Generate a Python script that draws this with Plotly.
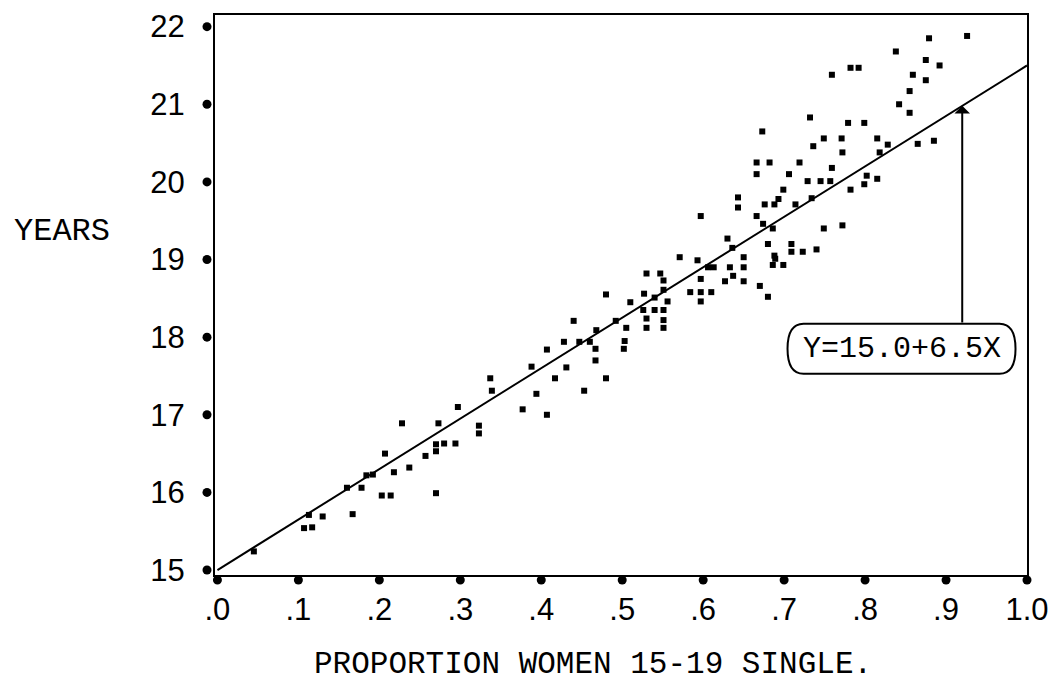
import plotly.graph_objects as go

# ---- data ----
x_vals = [0.045, 0.107, 0.117, 0.113, 0.130, 0.167, 0.160, 0.178, 0.184, 0.192,
          0.203, 0.214, 0.207, 0.218, 0.237, 0.228, 0.257, 0.270, 0.270, 0.280,
          0.294, 0.270, 0.273, 0.297, 0.323, 0.323, 0.337, 0.339, 0.377, 0.388,
          0.394, 0.407, 0.407, 0.417, 0.428, 0.431, 0.440, 0.453, 0.447, 0.460,
          0.467, 0.467, 0.480, 0.480, 0.468, 0.492, 0.505, 0.503, 0.502, 0.510,
          0.527, 0.526, 0.540, 0.551, 0.530, 0.551, 0.530, 0.551, 0.530, 0.547,
          0.551, 0.556, 0.540, 0.551, 0.571, 0.593, 0.597, 0.606, 0.613, 0.597,
          0.584, 0.597, 0.610, 0.597, 0.627, 0.637, 0.650, 0.633, 0.650, 0.650,
          0.630, 0.636, 0.670, 0.680, 0.643, 0.643, 0.666, 0.674, 0.686, 0.680,
          0.688, 0.689, 0.686, 0.699, 0.709, 0.709, 0.723, 0.740, 0.749, 0.772,
          0.676, 0.688, 0.693, 0.699, 0.714, 0.734, 0.666, 0.666, 0.682, 0.706,
          0.719, 0.729, 0.745, 0.757, 0.759, 0.673, 0.732, 0.736, 0.749, 0.771,
          0.772, 0.782, 0.799, 0.802, 0.815, 0.818, 0.828, 0.815, 0.779, 0.799,
          0.759, 0.782, 0.792, 0.838, 0.842, 0.855, 0.855, 0.859, 0.865, 0.885,
          0.875, 0.875, 0.892, 0.879, 0.926]
y_vals = [15.24, 15.54, 15.55, 15.71, 15.69, 15.72, 16.06, 16.06, 16.22, 16.23,
          15.96, 15.96, 16.50, 16.26, 16.32, 16.89, 16.47, 16.62, 16.53, 16.63,
          16.63, 15.99, 16.89, 17.10, 16.86, 16.76, 17.47, 17.31, 17.07, 17.62,
          17.27, 17.84, 17.00, 17.47, 17.94, 17.61, 18.21, 17.31, 17.94, 17.94,
          17.85, 17.70, 17.47, 18.55, 18.09, 18.21, 18.12, 17.95, 17.85, 18.45,
          18.56, 18.35, 18.35, 18.35, 18.24, 18.22, 18.12, 18.12, 18.82, 18.82,
          18.73, 18.46, 18.51, 18.61, 19.03, 18.99, 19.56, 18.90, 18.90, 18.75,
          18.58, 18.58, 18.58, 18.46, 18.72, 18.79, 18.72, 18.90, 18.90, 19.03,
          19.27, 19.15, 18.66, 18.52, 19.80, 19.67, 19.56, 19.46, 19.40, 19.20,
          19.05, 19.01, 18.93, 18.93, 19.20, 19.10, 19.10, 19.13, 19.40, 19.44,
          19.71, 19.71, 19.78, 19.90, 19.71, 19.79, 20.10, 20.25, 20.25, 20.10,
          20.25, 20.01, 20.01, 20.01, 20.18, 20.65, 20.83, 20.46, 20.56, 20.56,
          20.38, 19.90, 19.97, 20.08, 20.04, 20.38, 20.48, 20.56, 20.76, 20.76,
          21.38, 21.47, 21.47, 21.68, 21.00, 20.89, 21.17, 21.38, 20.49, 20.53,
          21.31, 21.57, 21.50, 21.85, 21.88]

x_ticks = [0.0, 0.1, 0.2, 0.3, 0.4, 0.5, 0.6, 0.7, 0.8, 0.9, 1.0]
x_tick_labels = [".0", ".1", ".2", ".3", ".4", ".5", ".6", ".7", ".8", ".9", "1.0"]
y_ticks = [15, 16, 17, 18, 19, 20, 21, 22]
y_tick_labels = ["15", "16", "17", "18", "19", "20", "21", "22"]

intercept = 15.0
slope = 6.5
arrow_x = 0.92
eq_text = "Y=15.0+6.5X"
x_title = "PROPORTION WOMEN 15-19 SINGLE."
y_title = "YEARS"

# ---- styling ----
FONT = "Liberation Mono, DejaVu Sans Mono, monospace"
TICKFONT = "Liberation Sans, Arial, sans-serif"
XR = [-0.003, 1.0]
YR = [14.936, 22.15]
PLOT_W, PLOT_H = 812, 565
px_y = (YR[1] - YR[0]) / PLOT_H

fig = go.Figure()

# data points
fig.add_trace(go.Scatter(
    x=x_vals, y=y_vals, mode="markers",
    marker=dict(symbol="square", size=6, color="black"),
    hoverinfo="x+y", showlegend=False))

# regression line
line_x = [0.0, 1.0]
fig.add_trace(go.Scatter(
    x=line_x, y=[intercept + slope * v for v in line_x], mode="lines",
    line=dict(color="black", width=2), showlegend=False, hoverinfo="skip"))

# tick dots outside the axes (paper coords derived from the axis ranges)
for t in x_ticks:
    xp = (t - XR[0]) / (XR[1] - XR[0])
    fig.add_shape(type="circle", xref="paper", yref="paper",
                  xsizemode="pixel", ysizemode="pixel",
                  xanchor=xp, yanchor=0, x0=-4.5, x1=4.5, y0=-9.5, y1=-0.5,
                  fillcolor="black", line=dict(color="black", width=0))
for t in y_ticks:
    yp = (t - YR[0]) / (YR[1] - YR[0])
    fig.add_shape(type="circle", xref="paper", yref="paper",
                  xsizemode="pixel", ysizemode="pixel",
                  xanchor=0, yanchor=yp, x0=-12.5, x1=-3.5, y0=-4.5, y1=4.5,
                  fillcolor="black", line=dict(color="black", width=0))

# equation box (rounded)
eq_cx = 0.845
eq_cy = 17.85
half_w, half_h, r = 114, 25, 16
path = (f"M {-half_w + r},{half_h} L {half_w - r},{half_h} "
        f"Q {half_w},{half_h} {half_w},0 Q {half_w},{-half_h} {half_w - r},{-half_h} "
        f"L {-half_w + r},{-half_h} Q {-half_w},{-half_h} {-half_w},0 "
        f"Q {-half_w},{half_h} {-half_w + r},{half_h} Z")
fig.add_shape(type="path", xref="x", yref="y", xsizemode="pixel", ysizemode="pixel",
              xanchor=eq_cx, yanchor=eq_cy, path=path,
              line=dict(color="black", width=2), fillcolor="white", layer="above")
fig.add_annotation(x=eq_cx, y=eq_cy, xref="x", yref="y", text=eq_text,
                   showarrow=False, font=dict(family=FONT, size=30, color="black"))

# arrow from box to the line
fig.add_annotation(x=arrow_x, y=intercept + slope * arrow_x, xref="x", yref="y",
                   ax=arrow_x, ay=eq_cy + half_h * px_y, axref="x", ayref="y",
                   text="", showarrow=True, arrowhead=1, arrowsize=1.3,
                   arrowwidth=2, arrowcolor="black", standoff=0)

# axis titles as annotations
fig.add_annotation(x=0.466, y=-0.159, xref="paper", yref="paper", text=x_title,
                   showarrow=False, xanchor="center", yanchor="middle",
                   font=dict(family=FONT, size=31, color="black"))
fig.add_annotation(x=-0.188, y=0.614, xref="paper", yref="paper", text=y_title,
                   showarrow=False, xanchor="center", yanchor="middle",
                   font=dict(family=FONT, size=32, color="black"))

fig.update_layout(
    width=1063, height=690,
    margin=dict(l=215, r=36, t=10, b=115),
    paper_bgcolor="white", plot_bgcolor="white",
    showlegend=False,
    xaxis=dict(range=XR, tickvals=x_ticks, ticktext=x_tick_labels,
               showgrid=False, zeroline=False, showline=True, mirror=True,
               linecolor="black", linewidth=2, ticks="", ticklabelstandoff=6,
               tickfont=dict(family=TICKFONT, size=31, color="black")),
    yaxis=dict(range=YR, tickvals=y_ticks, ticktext=y_tick_labels,
               showgrid=False, zeroline=False, showline=True, mirror=True,
               linecolor="black", linewidth=2, ticks="", ticklabelstandoff=22,
               tickfont=dict(family=TICKFONT, size=31, color="black")),
)

fig.write_html("out.html")
